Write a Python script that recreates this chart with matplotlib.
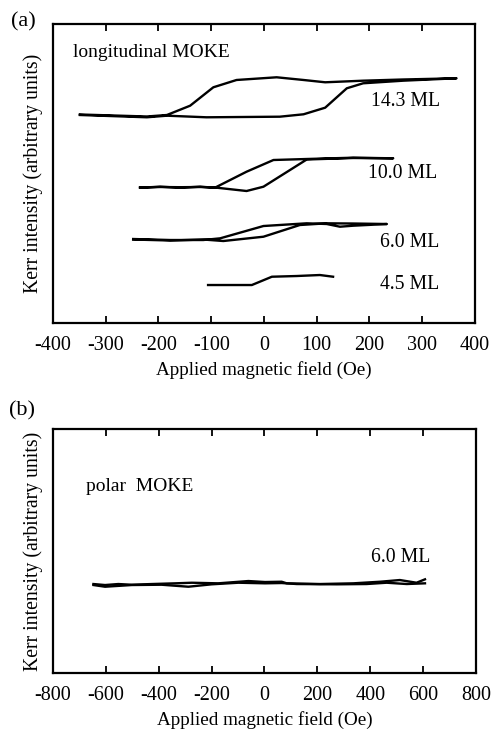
import matplotlib
matplotlib.use("Agg")
import matplotlib.pyplot as plt
import numpy as np

plt.rcParams['font.family'] = ['Liberation Serif', 'DejaVu Serif']

# ---- Panel (a): longitudinal MOKE loops (field in Oe, intensity arbitrary) ----
ml143_x = [-349, -222, -184, -109, 30, 75, 116, 157, 188, 264, 365,
           264, 188, 116, 75, 24, -52, -96, -140, -184, -222, -349]
ml143_y = [208, 205.7, 207.3, 205.7, 206.3, 208.7, 215.3, 234.7, 239.7, 242.3, 244.7,
           243.5, 242.3, 240.7, 243, 245.7, 243, 235.7, 217.3, 208, 206.5, 208.5]

ml100_x = [-235, -197, -159, -121, -93, -33, 18, 81, 169, 245,
           169, 81, -1, -33, -93, -121, -159, -197, -235]
ml100_y = [135.3, 136.3, 135.3, 136.3, 135.3, 151.3, 163, 164, 165.3, 164.7,
           165.0, 163.5, 136.3, 132, 135.5, 136, 135.8, 136, 135.5]

ml60_x = [-248, -178, -115, -83, -1, 81, 119, 144, 169, 233,
          169, 119, 68, -1, -77, -115, -178, -248]
ml60_y = [84, 83, 83, 84.7, 97, 99.7, 99, 96.3, 97.3, 99,
          99.5, 99.7, 98, 86.3, 82, 83.5, 82.5, 83.5]

ml45_x = [-106, -23, 15, 62, 106, 131]
ml45_y = [38, 38, 46.3, 47, 48, 46.3]

# ---- Panel (b): polar MOKE 6.0 ML ----
polA_x = [-647, -603, -553, -502, -426, -338, -275, -175, -61, 2, 65, 84, 210, 336, 437, 512, 575, 607]
polA_y = [89, 88, 89, 88.3, 89, 89.7, 90.3, 89.7, 92, 91, 91.3, 89.7, 89, 89.7, 91.3, 93, 90.3, 93.7]
polB_x = [607, 538, 462, 386, 273, 122, 65, 2, -99, -200, -288, -389, -502, -603, -647]
polB_y = [89.7, 89, 90.3, 89, 88.7, 89, 90, 89.7, 90.3, 88.7, 86.3, 88.3, 88, 86.3, 88]

a_ticks = [-400, -300, -200, -100, 0, 100, 200, 300, 400]
b_ticks = [-800, -600, -400, -200, 0, 200, 400, 600, 800]

fig = plt.figure(figsize=(4.92, 7.31), dpi=100)
axa = fig.add_axes([0.1077, 0.5581, 0.8577, 0.4091])
axb = fig.add_axes([0.1077, 0.0793, 0.8598, 0.3338])

lw = 1.7
for xs, ys in [(ml143_x, ml143_y), (ml100_x, ml100_y), (ml60_x, ml60_y), (ml45_x, ml45_y)]:
    axa.plot(xs, ys, color='black', lw=lw)
axb.plot(polA_x, polA_y, color='black', lw=lw)
axb.plot(polB_x, polB_y, color='black', lw=lw)

axa.set_xlim(-400, 400)
axa.set_ylim(0, 299)
axb.set_xlim(-800, 800)
axb.set_ylim(0, 244)

for ax, ticks in [(axa, a_ticks), (axb, b_ticks)]:
    ax.set_xticks(ticks)
    ax.set_xticklabels([str(t) for t in ticks])
    ax.set_yticks([])
    ax.tick_params(axis='x', direction='in', top=True, bottom=True, length=5, width=1.3,
                   labelsize=14.5, pad=9)
    for s in ax.spines.values():
        s.set_linewidth(1.6)
    ax.set_xlabel('Applied magnetic field (Oe)', fontsize=13.8, labelpad=5)
    ax.set_ylabel('Kerr intensity (arbitrary units)', fontsize=14.2, labelpad=7)

axa.text(-362, 270, 'longitudinal MOKE', fontsize=14, va='center', ha='left')
axa.text(268, 221, '14.3 ML', fontsize=14.2, va='center', ha='center')
axa.text(262, 150, '10.0 ML', fontsize=14.2, va='center', ha='center')
axa.text(277, 81, '6.0 ML', fontsize=14.2, va='center', ha='center')
axa.text(277, 39, '4.5 ML', fontsize=14.2, va='center', ha='center')

axb.text(-675, 187, 'polar  MOKE', fontsize=14, va='center', ha='left')
axb.text(515, 116, '6.0 ML', fontsize=14.2, va='center', ha='center')

fig.text(23 / 492, 1 - 22 / 731, '(a)', fontsize=16, ha='center', va='center')
fig.text(22 / 492, 1 - 411 / 731, '(b)', fontsize=16, ha='center', va='center')

fig.savefig('out.png', dpi=100)
